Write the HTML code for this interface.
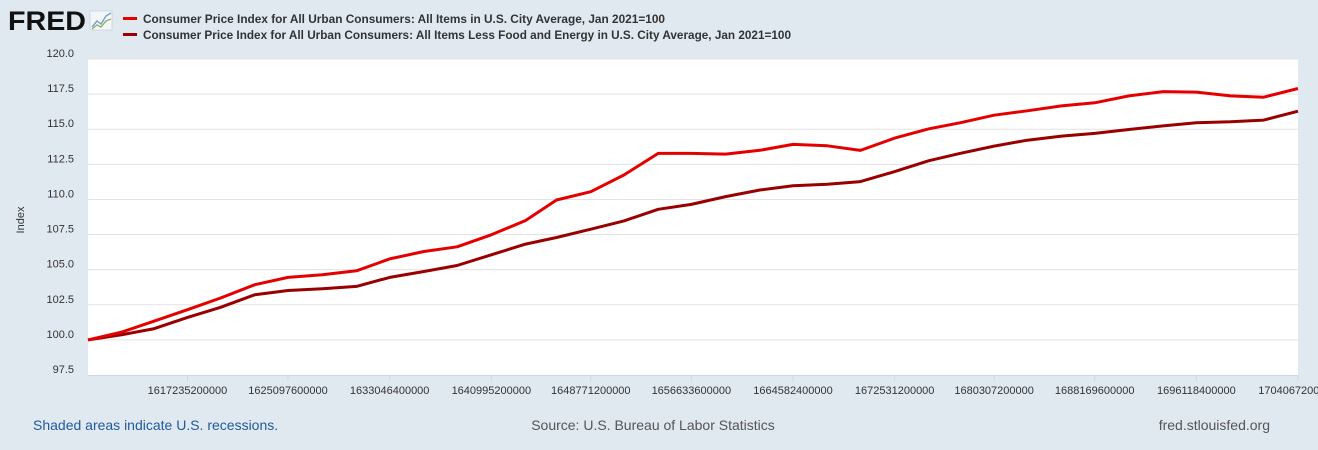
<!DOCTYPE html>
<html><head><meta charset="utf-8"><style>
html,body{margin:0;padding:0;background:#e1e9f0;}
svg{display:block;font-family:"Liberation Sans",Arial,sans-serif;}
</style></head><body>
<svg id="chart" width="1318" height="450" viewBox="0 0 1318 450" xmlns="http://www.w3.org/2000/svg">
<rect width="1318" height="450" fill="#e1e9f0"/>
<g>
<text x="8" y="30" font-size="27" font-weight="bold" fill="#111" textLength="78" lengthAdjust="spacingAndGlyphs">FRED</text>
<rect x="90" y="11" width="22" height="19" fill="#f4f7fa" stroke="#c8d3dd" stroke-width="0.8"/>
<polyline points="92,27 97,21 101,24 106,16 111,13" fill="none" stroke="#7aa0c4" stroke-width="1.4"/>
<polyline points="92,29 97,25 101,27 106,21 111,19" fill="none" stroke="#8fb36b" stroke-width="1.4"/>
</g>
<g>
<rect x="123" y="17" width="14" height="3" fill="#e50000"/>
<text x="143" y="23" font-size="12" font-weight="bold" fill="#333" textLength="522" lengthAdjust="spacingAndGlyphs">Consumer Price Index for All Urban Consumers: All Items in U.S. City Average, Jan 2021=100</text>
<rect x="123" y="33" width="14" height="3" fill="#990000"/>
<text x="143" y="39" font-size="12" font-weight="bold" fill="#333" textLength="648" lengthAdjust="spacingAndGlyphs">Consumer Price Index for All Urban Consumers: All Items Less Food and Energy in U.S. City Average, Jan 2021=100</text>
</g>
<rect x="88" y="59" width="1210" height="316" fill="#fff"/>
<g id="grid"></g>
<g id="yticks"></g>
<g id="xticks"></g>
<g id="series"></g>
<text transform="translate(24,220) rotate(-90)" text-anchor="middle" font-size="11" fill="#333">Index</text>
<text x="33" y="430" font-size="14" fill="#1f5a9c">Shaded areas indicate U.S. recessions.</text>
<text x="653" y="430" font-size="14" fill="#555" text-anchor="middle">Source: U.S. Bureau of Labor Statistics</text>
<text x="1270" y="430" font-size="14" fill="#555" text-anchor="end">fred.stlouisfed.org</text>
</svg>
<script>
const yTicks = [97.5,100.0,102.5,105.0,107.5,110.0,112.5,115.0,117.5,120.0];
const xTickLabels = [1617235200000,1625097600000,1633046400000,1640995200000,1648771200000,1656633600000,1664582400000,1672531200000,1680307200000,1688169600000,1696118400000,1704067200000];
const cpiAll = [100,100.57,101.32,102.15,102.98,103.93,104.45,104.64,104.92,105.77,106.29,106.63,107.48,108.5,109.96,110.55,111.74,113.28,113.28,113.23,113.5,113.92,113.82,113.49,114.37,115.03,115.46,116.0,116.31,116.66,116.88,117.37,117.68,117.64,117.37,117.28,117.9];
const cpiCore = [100,100.38,100.78,101.6,102.32,103.22,103.52,103.64,103.81,104.45,104.87,105.3,106.06,106.82,107.29,107.88,108.47,109.3,109.65,110.2,110.67,110.98,111.08,111.27,111.98,112.76,113.28,113.8,114.22,114.51,114.7,114.98,115.24,115.46,115.53,115.65,116.28];
const NS="http://www.w3.org/2000/svg";
const X0=88,X1=1298,Y0=375,Y1=59;
const tMin=Date.UTC(2021,0,1), tMax=Date.UTC(2024,0,1);
function xs(t){return X0+(t-tMin)/(tMax-tMin)*(X1-X0);}
function ys(v){return Y0-(v-97.5)/(120-97.5)*(Y0-Y1);}
function mk(tag,attrs,parent){const e=document.createElementNS(NS,tag);for(const k in attrs)e.setAttribute(k,attrs[k]);parent.appendChild(e);return e;}
const grid=document.getElementById('grid'),yt=document.getElementById('yticks'),xt=document.getElementById('xticks'),ser=document.getElementById('series');
yTicks.forEach(v=>{
  const y=ys(v);
  if(v>97.5){const l=mk('line',{x1:X0,x2:X1,y1:y,y2:y,stroke:'#e3e3e3','stroke-width':1},grid);
  
  }
  const t=mk('text',{x:74,y:y-2,'text-anchor':'end','font-size':11,fill:'#333'},yt);
  t.textContent=v.toFixed(1);
  
  
});
xTickLabels.forEach(ms=>{
  const x=xs(ms);
  const l=mk('line',{x1:x,x2:x,y1:Y0,y2:Y0+6,stroke:'#ccd6eb','stroke-width':1},xt);
  
  
  const t=mk('text',{x:x,y:394,'text-anchor':'middle','font-size':11,fill:'#333'},xt);
  t.textContent=String(ms);
  
  
});
mk('line',{x1:X0,x2:X1,y1:Y0+0.5,y2:Y0+0.5,stroke:'#ccd6eb','stroke-width':1},xt);
function path(vals,color,name){
  const pts=vals.map((v,i)=>xs(Date.UTC(2021,i,1)).toFixed(1)+','+ys(v).toFixed(1)).join(' ');
  const p=mk('polyline',{points:pts,fill:'none',stroke:color,'stroke-width':3,'stroke-linejoin':'round'},ser);
  
  
}
path(cpiCore,'#990000','line-cpi-core');
path(cpiAll,'#e50000','line-cpi-all');
</script>
</body></html>
